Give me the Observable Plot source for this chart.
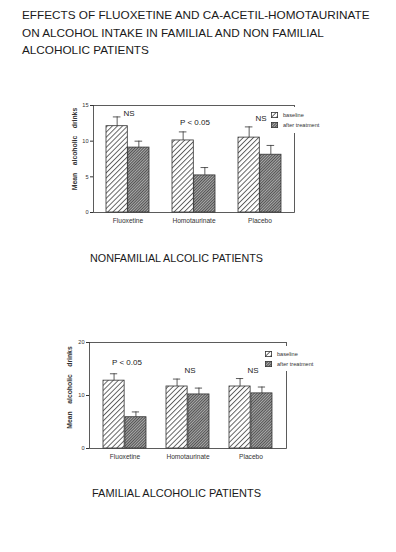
<!DOCTYPE html>
<html><head><meta charset="utf-8">
<script src="https://cdn.jsdelivr.net/npm/d3@7"></script>
<script src="https://cdn.jsdelivr.net/npm/@observablehq/plot@0.6"></script>
<style>
body{margin:0;background:#fff;}
#page{position:relative;width:396px;height:552px;font-family:"Liberation Sans",Arial,sans-serif;color:#1a1a1a;overflow:hidden;background:#fff}
.abs{position:absolute}
#title{left:22px;top:6px;font-size:11.75px;line-height:17.5px;white-space:nowrap}
.cap{white-space:nowrap;line-height:12px}
.legend{background:#fff;font-size:5.6px;color:#333;line-height:10px;padding:3px 0 0 3px}
.legend div{display:flex;align-items:center;height:10px}
.legend svg{margin-right:5px;flex:none}
</style>
</head><body>
<svg width="0" height="0" style="position:absolute">
  <defs>
    <pattern id="hatchB" patternUnits="userSpaceOnUse" width="3.6" height="3.6" patternTransform="rotate(45)">
      <rect width="3.6" height="3.6" fill="#fff"/>
      <line x1="0.5" y1="0" x2="0.5" y2="3.6" stroke="#555" stroke-width="0.9"/>
    </pattern>
    <pattern id="hatchA" patternUnits="userSpaceOnUse" width="2" height="2" patternTransform="rotate(45)">
      <rect width="2" height="2" fill="#aaa"/>
      <line x1="0.5" y1="0" x2="0.5" y2="2" stroke="#4a4a4a" stroke-width="0.9"/>
    </pattern>
  </defs>
</svg>
<div id="page">
  <div id="title" class="abs">EFFECTS OF FLUOXETINE AND CA-ACETIL-HOMOTAURINATE<br>ON ALCOHOL INTAKE IN FAMILIAL AND NON FAMILIAL<br>ALCOHOLIC PATIENTS</div>
  <div id="c1" class="abs" style="left:0;top:90px"></div>
  <div id="l1" class="abs legend" style="left:268px;top:107px;width:62px;height:23px"></div>
  <div id="cap1" class="abs cap" style="left:90px;top:252px;font-size:10.75px">NONFAMILIAL ALCOLIC PATIENTS</div>
  <div id="c2" class="abs" style="left:0;top:330px"></div>
  <div id="l2" class="abs legend" style="left:262px;top:346px;width:64px;height:22px"></div>
  <div id="cap2" class="abs cap" style="left:92px;top:487px;font-size:11px">FAMILIAL ALCOHOLIC PATIENTS</div>
</div>
<script>
const categories = ["Fluoxetine", "Homotaurinate", "Placebo"];
const seriesNames = ["baseline", "after treatment"];
const yLabel = "Mean alcoholic drinks";

// NONFAMILIAL (top chart)
const nonfamBaseline = [12.1, 10.1, 10.5];
const nonfamBaselineErrTop = [13.4, 11.3, 12.0];
const nonfamAfter = [9.1, 5.2, 8.1];
const nonfamAfterErrTop = [10.0, 6.3, 9.4];
const nonfamSig = ["NS", "P < 0.05", "NS"];
const nonfamSigY = [13.9, 12.6, 13.2];
const nonfamTicks = [0, 5, 10, 15];

// FAMILIAL (bottom chart)
const famBaseline = [12.8, 11.7, 11.7];
const famBaselineErrTop = [14.1, 13.1, 13.2];
const famAfter = [5.9, 10.2, 10.4];
const famAfterErrTop = [6.9, 11.4, 11.6];
const famSig = ["P < 0.05", "NS", "NS"];
const famSigY = [16.2, 14.7, 14.7];
const famTicks = [0, 10, 20];

function makeChart(o) {
  const rows = categories.map((c, i) => ({
    c, b: o.baseline[i], be: o.baseErr[i], a: o.after[i], ae: o.afterErr[i], s: o.sig[i], sy: o.sigY[i]
  }));
  const width = 396;
  const n = categories.length;
  const step = (width - o.mL - o.mR) / (n - o.pi + 2 * o.po);
  const bw = step * (1 - o.pi);
  const cap = 8;
  const stroke = "#333";
  const svg = Plot.plot({
    width, height: o.height,
    marginLeft: o.mL, marginRight: o.mR, marginTop: o.mT, marginBottom: o.mB,
    style: {fontFamily: "Liberation Sans, Arial, sans-serif", fontSize: "6.6px", color: "#333", background: "transparent"},
    x: {domain: categories, paddingInner: o.pi, paddingOuter: o.po, tickSize: 0, tickPadding: 6, label: null},
    y: {domain: [0, o.ymax], ticks: o.ticks, tickSize: 3, tickPadding: 2, label: null},
    marks: [
      Plot.frame({stroke, strokeWidth: 0.8}),
      Plot.barY(rows, {x: "c", y: "b", fill: "url(#hatchB)", stroke, strokeWidth: 0.8, insetRight: bw / 2, insetLeft: 0}),
      Plot.barY(rows, {x: "c", y: "a", fill: "url(#hatchA)", stroke, strokeWidth: 0.8, insetLeft: bw / 2, insetRight: 0}),
      Plot.ruleX(rows, {x: "c", y1: "b", y2: "be", dx: -bw / 4, stroke, strokeWidth: 0.8}),
      Plot.tickY(rows, {x: "c", y: "be", insetLeft: bw / 4 - cap / 2, insetRight: 3 * bw / 4 - cap / 2, stroke, strokeWidth: 0.8}),
      Plot.ruleX(rows, {x: "c", y1: "a", y2: "ae", dx: bw / 4, stroke, strokeWidth: 0.8}),
      Plot.tickY(rows, {x: "c", y: "ae", insetLeft: 3 * bw / 4 - cap / 2, insetRight: bw / 4 - cap / 2, stroke, strokeWidth: 0.8}),
      Plot.text(rows, {x: "c", y: "sy", text: "s", fontSize: 8, fill: "#222", dx: o.sigDx}),
      Plot.text([yLabel], {frameAnchor: "left", textAnchor: "middle", rotate: -90, dx: o.labelDx, dy: o.labelDy,
        fontSize: 6.8, fontWeight: "bold", fill: "#333",
        text: d => d.split(" ").join("\u00a0\u00a0\u00a0\u00a0")})
    ]
  });
  // smaller y tick labels as in the reference
  d3.select(svg).selectAll('g[aria-label="y-axis"] text, g[aria-label="y-axis tick label"] text').attr("font-size", "5.6px");
  return svg;
}

document.getElementById("c1").append(makeChart({
  baseline: nonfamBaseline, baseErr: nonfamBaselineErrTop, after: nonfamAfter, afterErr: nonfamAfterErrTop,
  sig: nonfamSig, sigY: nonfamSigY, ticks: nonfamTicks, ymax: 15,
  height: 145, mL: 93, mR: 102, mT: 15, mB: 23, pi: 0.35, po: 0.18, labelDx: -19, labelDy: -10, sigDx: 1
}));
document.getElementById("c2").append(makeChart({
  baseline: famBaseline, baseErr: famBaselineErrTop, after: famAfter, afterErr: famAfterErrTop,
  sig: famSig, sigY: famSigY, ticks: famTicks, ymax: 20,
  height: 140, mL: 89, mR: 110, mT: 12, mB: 22, pi: 0.315, po: 0.2, labelDx: -20, labelDy: -8, sigDx: 2
}));

function legend(id) {
  const el = document.getElementById(id);
  seriesNames.forEach((s, i) => {
    const row = document.createElement("div");
    row.innerHTML = `<svg width="7" height="6"><rect x="0.4" y="0.4" width="6.2" height="5.2" fill="url(#${i === 0 ? "hatchB" : "hatchA"})" stroke="#333" stroke-width="0.8"/></svg><span>${s}</span>`;
    el.append(row);
  });
}
legend("l1");
legend("l2");
</script>
</body></html>
